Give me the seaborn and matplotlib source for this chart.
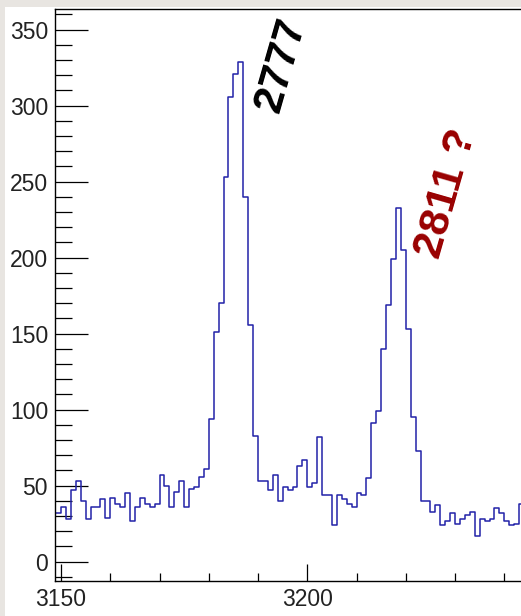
import numpy as np
import pandas as pd
import matplotlib
matplotlib.use("Agg")
import matplotlib.pyplot as plt
from matplotlib.patches import Rectangle
from matplotlib.ticker import MultipleLocator
import seaborn as sns

# ---- data ----
bin_first_edge = 3148
bin_width = 1
counts = [32, 32, 36, 28, 47, 53, 40, 28, 36, 36,
          41, 29, 42, 38, 36, 45, 27, 36, 42, 38,
          36, 38, 57, 50, 36, 46, 53, 36, 48, 49,
          56, 61, 94, 151, 170, 253, 306, 321, 329, 240,
          156, 83, 53, 53, 47, 57, 40, 49, 47, 49,
          63, 67, 49, 52, 82, 44, 44, 24, 44, 41,
          38, 36, 45, 44, 55, 91, 99, 140, 169, 199,
          233, 205, 153, 95, 73, 40, 40, 33, 37, 24,
          27, 32, 25, 28, 31, 33, 17, 28, 27, 28,
          35, 32, 27, 24, 25, 38]
x_tick_labels = [3150, 3200]
y_tick_labels = [0, 50, 100, 150, 200, 250, 300, 350]
annotations = ["2777", "2811 ?"]

n_bins = len(counts)
centers = bin_first_edge + bin_width * (np.arange(n_bins) + 0.5)
df = pd.DataFrame({"energy": centers, "counts": counts})

sns.set_style("white")
plt.rcParams["font.family"] = ["Liberation Sans", "DejaVu Sans"]

W, H = 521, 616
fig = plt.figure(figsize=(W / 100, H / 100), dpi=100, facecolor="white")

# light grey frame (screenshot border) on left and top
grey = "#e8e5e1"
fig.patches.append(Rectangle((0, 0), 5 / W, 1, transform=fig.transFigure,
                             facecolor=grey, edgecolor="none", zorder=-10))
fig.patches.append(Rectangle((0, 1 - 7 / H), 1, 7 / H, transform=fig.transFigure,
                             facecolor=grey, edgecolor="none", zorder=-10))

xmin, xmax = 3148.78, 3250.0
px_per_x = 4.926
ax_left = 55
ax_width = (xmax - xmin) * px_per_x
ax_top = 9
ax_bottom = 581
ax = fig.add_axes([ax_left / W, (H - ax_bottom) / H, ax_width / W, (ax_bottom - ax_top) / H])

sns.histplot(data=df, x="energy", weights="counts", binwidth=bin_width,
             binrange=(bin_first_edge, bin_first_edge + n_bins * bin_width),
             element="step", fill=False, color="#2222a8", linewidth=1.1, ax=ax)

ax.set_xlim(xmin, xmax)
ax.set_ylim(-12.7, 363.6)
ax.set_xlabel("")
ax.set_ylabel("")

ax.xaxis.set_minor_locator(MultipleLocator(10))
ax.yaxis.set_minor_locator(MultipleLocator(10))
ax.set_xticks(x_tick_labels)
ax.set_xticklabels([str(v) for v in x_tick_labels])
ax.set_yticks(y_tick_labels)
ax.set_yticklabels([str(v) for v in y_tick_labels])

for s in ["left", "bottom", "top", "right"]:
    ax.spines[s].set_visible(True)
    ax.spines[s].set_color("black")
    ax.spines[s].set_linewidth(1.0)

ax.tick_params(axis="y", which="major", direction="in", length=23.8, width=0.9,
               color="black", labelsize=16.5, pad=5, left=True, right=False)
ax.tick_params(axis="y", which="minor", direction="in", length=12.2, width=0.9,
               color="black", left=True, right=False)
ax.tick_params(axis="x", which="major", direction="in", length=12.2, width=0.9,
               color="black", labelsize=16.5, pad=5, bottom=True, top=False)
ax.tick_params(axis="x", which="minor", direction="in", length=6, width=0.9,
               color="black", bottom=True, top=False)
for lab in ax.get_xticklabels() + ax.get_yticklabels():
    lab.set_color("#222222")

ax.text(3194.6, 326.8, annotations[0], rotation=74, rotation_mode="anchor",
        ha="center", va="center", fontsize=31, fontweight="bold", color="black")
ax.text(3228.2, 242.1, annotations[1], rotation=74, rotation_mode="anchor",
        ha="center", va="center", fontsize=31, fontweight="bold", color="#990000")

fig.savefig("out.png", dpi=100, facecolor="white")
